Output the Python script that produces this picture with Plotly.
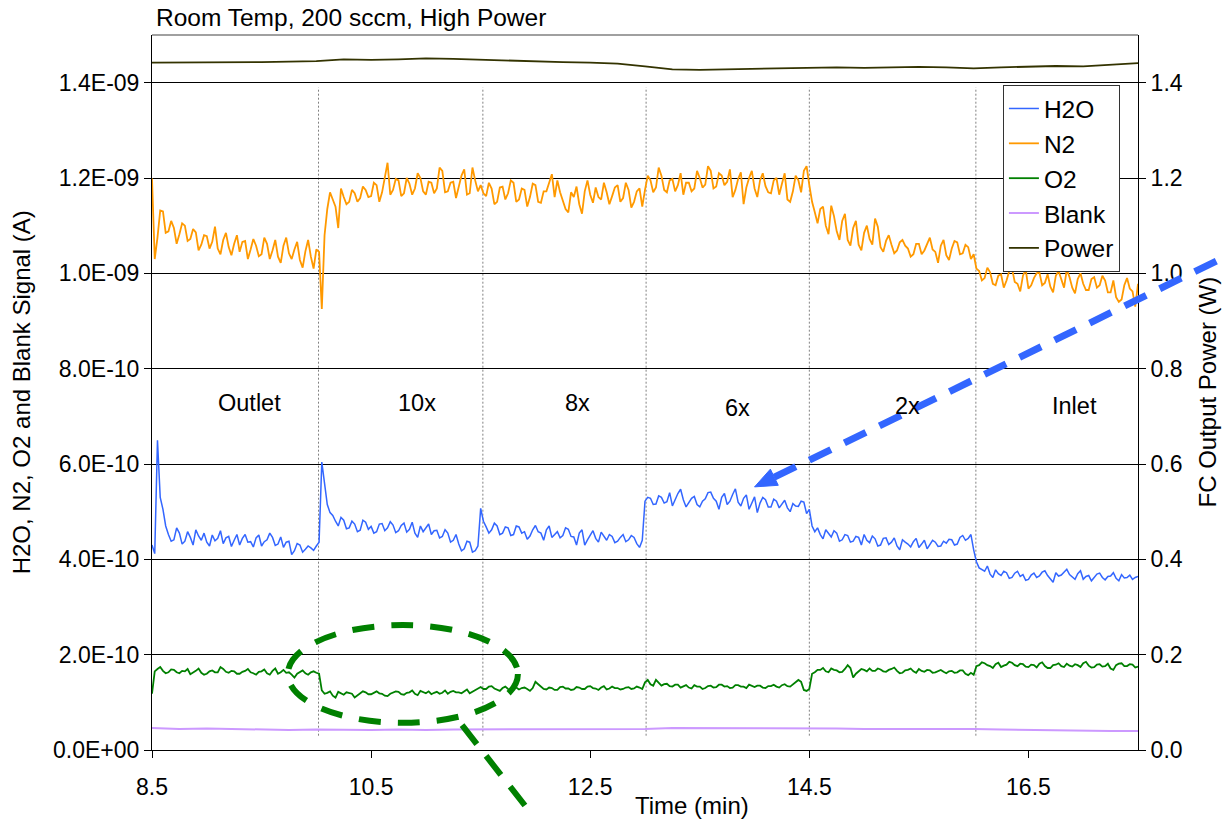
import numpy as np
import plotly.graph_objects as go

# ---------------------------------------------------------------------------
# Data
# ---------------------------------------------------------------------------
# gas signals sampled every 1.5 s, power and blank logged every 15 s (time in min)
t_gas = np.round(8.5 + 0.025 * np.arange(361), 3)
t_slow = np.round(8.5 + 0.25 * np.arange(37), 2)

# mass-spec currents in pA; one block per sampling location
h2o_pA = [
    # Outlet
    430, 412, 650, 530, 505, 470, 452, 438, 441, 466,
    455, 432, 438, 458, 446, 430, 462, 449, 440, 455,
    436, 428, 451, 439, 444, 460, 433, 445, 448, 427,
    440, 452, 430, 444, 452, 436, 437, 426, 445, 451,
    428, 437, 441, 455, 446, 429, 432, 447, 425, 436,
    438, 410, 418, 433, 430, 415, 421, 428, 424, 419,
    # 10x
    428, 436, 604, 560, 515, 498, 492, 480, 470, 488,
    482, 464, 466, 480, 474, 458, 461, 482, 478, 463,
    469, 455, 458, 474, 475, 460, 466, 479, 472, 456,
    460, 471, 476, 457, 463, 478, 455, 446, 470, 458,
    466, 474, 452, 460, 461, 445, 448, 462, 455, 436,
    440, 452, 432, 418, 422, 438, 436, 415, 418, 428,
    # 8x
    507, 480, 468, 455, 462, 476, 470, 452, 455, 468,
    466, 450, 452, 470, 468, 455, 458, 442, 449, 462,
    471, 458, 455, 440, 462, 470, 446, 452, 458, 445,
    450, 466, 463, 448, 447, 430, 455, 462, 430, 441,
    452, 460, 444, 436, 457, 448, 440, 452, 448, 435,
    438, 446, 452, 437, 441, 450, 446, 433, 425, 440,
    # 6x
    522, 530, 528, 515, 516, 533, 530, 518, 521, 540,
    512, 525, 538, 547, 525, 510, 519, 528, 532, 515,
    510, 522, 527, 540, 541, 528, 522, 505, 530, 538,
    515, 522, 536, 548, 520, 512, 528, 535, 505, 520,
    531, 498, 518, 530, 525, 510, 510, 526, 522, 508,
    515, 524, 508, 500, 517, 512, 511, 522, 520, 496,
    # 2x
    505, 470, 458, 466, 452, 443, 462, 455, 447, 460,
    455, 438, 441, 452, 450, 436, 438, 448, 446, 430,
    452, 440, 435, 449, 443, 428, 430, 444, 445, 431,
    436, 445, 428, 420, 441, 436, 432, 426, 437, 444,
    425, 432, 440, 422, 431, 440, 436, 427, 428, 438,
    434, 442, 441, 430, 432, 446, 450, 440, 444, 452,
    # Inlet
    420, 395, 382, 378, 375, 386, 369, 362, 378, 370,
    366, 375, 372, 360, 362, 371, 375, 364, 368, 356,
    358, 367, 371, 362, 365, 373, 376, 366, 360, 352,
    372, 365, 367, 374, 379, 368, 363, 358, 370, 376,
    358, 364, 366, 355, 362, 369, 371, 362, 357, 364,
    365, 372, 360, 355, 368, 361, 362, 367, 358, 362,
    364,
]

n2_pA = [
    # Outlet
    1199, 1030, 1075, 1132, 1130, 1085, 1088, 1110, 1095, 1062,
    1082, 1105, 1100, 1068, 1072, 1093, 1086, 1048, 1060, 1080,
    1078, 1052, 1066, 1098, 1052, 1040, 1070, 1085, 1055, 1038,
    1062, 1080, 1045, 1066, 1068, 1030, 1050, 1072, 1058, 1036,
    1040, 1075, 1062, 1030, 1048, 1070, 1035, 1022, 1058, 1075,
    1042, 1030, 1050, 1066, 1028, 1012, 1046, 1070, 1035, 1010,
    # 10x
    1050, 1045, 925, 1080, 1135, 1170, 1155, 1140, 1095, 1178,
    1160, 1145, 1150, 1175, 1168, 1150, 1158, 1182, 1175, 1160,
    1162, 1190, 1185, 1150, 1170, 1205, 1232, 1165, 1175, 1198,
    1195, 1162, 1168, 1200, 1188, 1165, 1178, 1210, 1200, 1172,
    1165, 1192, 1190, 1168, 1178, 1222, 1215, 1170, 1172, 1190,
    1192, 1158, 1180, 1205, 1218, 1165, 1168, 1222, 1195, 1172,
    # 8x
    1185, 1168, 1162, 1190, 1178, 1145, 1150, 1180, 1182, 1155,
    1168, 1195, 1190, 1150, 1155, 1178, 1175, 1140, 1160, 1188,
    1185, 1150, 1148, 1172, 1172, 1190, 1208, 1160, 1195, 1170,
    1150, 1135, 1128, 1170, 1160, 1182, 1145, 1125, 1172, 1195,
    1165, 1148, 1180, 1160, 1155, 1190, 1170, 1145, 1162, 1180,
    1185, 1150, 1158, 1190, 1175, 1138, 1150, 1172, 1178, 1140,
    # 6x
    1175, 1205, 1195, 1170, 1180, 1222, 1205, 1175, 1170, 1195,
    1198, 1172, 1185, 1210, 1165, 1190, 1190, 1172, 1178, 1215,
    1200, 1180, 1186, 1225, 1215, 1178, 1182, 1210, 1205, 1185,
    1192, 1218, 1160, 1175, 1198, 1212, 1145, 1180, 1200, 1215,
    1178, 1160, 1195, 1210, 1183, 1170, 1168, 1195, 1200, 1165,
    1188, 1210, 1155, 1150, 1172, 1205, 1195, 1170, 1215, 1225,
    # 2x
    1185, 1150, 1128, 1105, 1135, 1140, 1100, 1082, 1142, 1120,
    1088, 1070, 1110, 1125, 1070, 1058, 1095, 1110, 1060, 1048,
    1085, 1100, 1072, 1060, 1115, 1098, 1055, 1045, 1068, 1080,
    1060, 1042, 1048, 1065, 1070, 1058, 1052, 1035, 1040, 1062,
    1062, 1040, 1048, 1060, 1075, 1050, 1045, 1022, 1058, 1070,
    1038, 1028, 1052, 1068, 1065, 1040, 1042, 1060, 1055, 1030,
    # Inlet
    1040, 1010, 1005, 985, 990, 1012, 1002, 978, 975, 995,
    998, 970, 985, 1005, 1010, 982, 978, 962, 995, 1008,
    968, 975, 990, 1000, 1002, 975, 980, 998, 972, 960,
    995, 1005, 985, 970, 1008, 992, 970, 958, 988, 1000,
    978, 965, 965, 988, 992, 970, 975, 995, 985, 960,
    960, 985, 950, 940, 945, 975, 990, 968, 962, 930,
    978,
]

o2_pA = [
    # Outlet
    118, 165, 170, 174, 166, 161, 163, 169, 168, 163,
    161, 166, 165, 170, 159, 162, 166, 171, 162, 158,
    160, 165, 167, 163, 163, 174, 170, 164, 162, 166,
    165, 160, 160, 164, 166, 170, 163, 161, 158, 164,
    165, 169, 161, 158, 166, 171, 160, 163, 168, 162,
    163, 158, 152, 160, 164, 167, 161, 158, 163, 165,
    # 10x
    162, 160, 125, 118, 120, 123, 114, 110, 122, 119,
    116, 121, 120, 118, 110, 115, 119, 123, 121, 117,
    117, 120, 123, 119, 118, 114, 113, 118, 120, 123,
    122, 117, 116, 120, 121, 125, 118, 115, 124, 121,
    119, 123, 117, 120, 122, 118, 120, 125, 118, 122,
    124, 121, 121, 119, 123, 127, 119, 122, 125, 128,
    # 8x
    132, 128, 128, 133, 134, 129, 126, 124, 130, 133,
    128, 125, 135, 131, 127, 130, 131, 128, 124, 130,
    143, 138, 132, 128, 127, 131, 130, 126, 126, 132,
    133, 129, 129, 126, 127, 132, 131, 128, 128, 133,
    134, 130, 129, 126, 131, 134, 127, 129, 133, 130,
    130, 127, 128, 131, 132, 128, 129, 133, 131, 128,
    # 6x
    142, 147, 138, 135, 147, 140, 135, 138, 139, 134,
    133, 137, 137, 131, 134, 136, 131, 129, 136, 133,
    133, 128, 130, 134, 135, 131, 132, 137, 137, 133,
    134, 130, 131, 136, 136, 133, 133, 130, 137, 135,
    132, 135, 135, 131, 130, 134, 134, 137, 133, 131,
    136, 138, 134, 133, 138, 141, 147, 143, 126, 124,
    # 2x
    128, 160, 163, 168, 168, 172, 165, 163, 171, 168,
    167, 163, 164, 170, 178, 172, 152, 160, 166, 170,
    168, 165, 171, 166, 166, 171, 169, 165, 164, 168,
    170, 173, 166, 161, 162, 167, 168, 171, 165, 162,
    170, 166, 164, 168, 167, 162, 163, 166, 168, 164,
    161, 165, 166, 162, 163, 167, 167, 160, 157, 162,
    # Inlet
    158, 176, 178, 184, 182, 178, 176, 172, 180, 183,
    174, 177, 179, 185, 183, 178, 176, 181, 180, 175,
    174, 179, 178, 173, 181, 184, 176, 172, 172, 178,
    179, 182, 176, 174, 181, 177, 175, 180, 178, 174,
    182, 185, 177, 173, 174, 179, 180, 175, 176, 181,
    171, 168, 178, 181, 182, 176, 176, 180, 179, 173,
    175,
]

blank_pA = [
    46, 44, 45, 44, 43, 42, 43, 42, 42, 43, 42, 43, 43, 44, 43, 44, 43, 44, 44,
    46, 46, 45, 46, 46, 45, 45, 44, 44, 45, 44, 44, 43, 42, 41, 41, 40, 40,
]

# fuel-cell output power in W
power_W = [
    1.442, 1.442, 1.443, 1.442, 1.443, 1.444, 1.445, 1.449, 1.448, 1.449,
    1.451, 1.450, 1.448, 1.446, 1.444, 1.443, 1.442, 1.440, 1.434, 1.428,
    1.427, 1.428, 1.429, 1.430, 1.431, 1.432, 1.431, 1.432, 1.433, 1.432,
    1.430, 1.432, 1.434, 1.435, 1.434, 1.437, 1.441,
]

for arr in (h2o_pA, n2_pA, o2_pA):
    assert len(arr) == len(t_gas)
for arr in (blank_pA, power_W):
    assert len(arr) == len(t_slow)

# sampling-point switch times (min) and the location names between them
switch_times = [10.02, 11.52, 13.01, 14.50, 16.02]
location_labels = ["Outlet", "10x", "8x", "6x", "2x", "Inlet"]
location_x = [9.39, 10.92, 12.38, 13.84, 15.40, 16.92]
location_y_nA = [0.727, 0.727, 0.727, 0.717, 0.722, 0.722]

# axis ticks
x_tickvals = [8.5, 10.5, 12.5, 14.5, 16.5]
left_tickvals_nA = [0.0, 0.2, 0.4, 0.6, 0.8, 1.0, 1.2, 1.4]
left_ticktext = ["0.0E+00", "2.0E-10", "4.0E-10", "6.0E-10", "8.0E-10",
                 "1.0E-09", "1.2E-09", "1.4E-09"]
right_tickvals = [0.0, 0.2, 0.4, 0.6, 0.8, 1.0, 1.2, 1.4]
right_ticktext = ["0.0", "0.2", "0.4", "0.6", "0.8", "1.0", "1.2", "1.4"]

# ---------------------------------------------------------------------------
# Geometry helpers
# ---------------------------------------------------------------------------
FIG_W, FIG_H = 1224, 819
MARGIN = dict(l=152, r=86, t=35, b=69)
PLOT_W = FIG_W - MARGIN["l"] - MARGIN["r"]
PLOT_H = FIG_H - MARGIN["t"] - MARGIN["b"]
X_RANGE = (8.5, 17.5)
Y_RANGE_NA = (0.0, 1.5)

FONT = "Liberation Sans, Arial, sans-serif"
FS = 23          # tick labels
FS_LABEL = 23.5  # in-plot location labels
FS_TITLE = 24.5  # chart title / legend
FS_AXIS = 24     # axis titles


def to_paper(t, v_nA):
    """time (min) / signal (nA) -> paper coordinates (unclipped)."""
    px = (t - X_RANGE[0]) / (X_RANGE[1] - X_RANGE[0])
    py = (v_nA - Y_RANGE_NA[0]) / (Y_RANGE_NA[1] - Y_RANGE_NA[0])
    return px, py


def to_px(t, v):
    px, py = to_paper(t, v)
    return px * PLOT_W, py * PLOT_H


def px_to_paper(x, y):
    return x / PLOT_W, y / PLOT_H


def pA(values):
    return [v * 1e-12 for v in values]


# ---------------------------------------------------------------------------
# Figure
# ---------------------------------------------------------------------------
fig = go.Figure()

series = [
    ("H2O", t_gas, pA(h2o_pA), "#3366FF", 1.5),
    ("N2", t_gas, pA(n2_pA), "#FF9900", 1.8),
    ("O2", t_gas, pA(o2_pA), "#008000", 1.8),
    ("Blank", t_slow, pA(blank_pA), "#CC99FF", 2.0),
]
for name, t, y, color, w in series:
    fig.add_trace(go.Scatter(x=t, y=y, name=name, mode="lines",
                             line=dict(color=color, width=w), yaxis="y"))

fig.add_trace(go.Scatter(x=t_slow, y=power_W, name="Power", mode="lines",
                         line=dict(color="#333300", width=1.8), yaxis="y2"))

shapes = []
# dotted separators between sampling locations
for ts in switch_times:
    shapes.append(dict(type="line", xref="x", yref="y", x0=ts, x1=ts,
                       y0=0.03e-9, y1=1.39e-9, layer="below",
                       line=dict(color="#808080", width=1, dash="2px,2px")))

# grey top frame of the plot area
shapes.append(dict(type="line", xref="paper", yref="paper", x0=0, x1=1,
                   y0=1, y1=1, line=dict(color="#808080", width=1.5)))

# blue dashed arrow pointing at the 6x H2O plateau
tip = (14.0, 0.552)
tail = (18.6, 1.069)

tip_px = np.array(to_px(*tip))
tail_px = np.array(to_px(*tail))
u = (tail_px - tip_px) / np.linalg.norm(tail_px - tip_px)
n = np.array([-u[1], u[0]])
base = tip_px + 22 * u
c1 = base + 9 * n
c2 = base - 9 * n

bx, by = px_to_paper(*base)
tx, ty = px_to_paper(*tail_px)
shapes.append(dict(type="line", xref="paper", yref="paper",
                   x0=bx, y0=by, x1=tx, y1=ty,
                   line=dict(color="#3366FF", width=7, dash="24px,15px")))
pts = [px_to_paper(*p) for p in (tip_px, c1, c2)]
path = "M {} {} L {} {} L {} {} Z".format(pts[0][0], pts[0][1], pts[1][0],
                                          pts[1][1], pts[2][0], pts[2][1])
shapes.append(dict(type="path", xref="paper", yref="paper", path=path,
                   fillcolor="#3366FF", line=dict(color="#3366FF", width=1)))

# green dashed ellipse around the O2 dip, with a pointer line
ex0, ey0 = to_paper(9.74, 0.057)
ex1, ey1 = to_paper(11.84, 0.262)
shapes.append(dict(type="circle", xref="paper", yref="paper",
                   x0=ex0, y0=ey0, x1=ex1, y1=ey1,
                   line=dict(color="#008000", width=6, dash="22px,17px")))
lx0, ly0 = to_paper(11.33, 0.052)
lx1, ly1 = to_paper(11.95, -0.13)
shapes.append(dict(type="line", xref="paper", yref="paper",
                   x0=lx0, y0=ly0, x1=lx1, y1=ly1,
                   line=dict(color="#008000", width=6, dash="24px,15px")))

annotations = []
for label, lx, ly in zip(location_labels, location_x, location_y_nA):
    annotations.append(dict(x=lx, y=ly * 1e-9, xref="x", yref="y", text=label,
                            showarrow=False,
                            font=dict(size=FS_LABEL, color="black")))

annotations += [
    dict(text="Room Temp, 200 sccm, High Power", xref="paper", yref="paper",
         x=0.002, y=1.025, xanchor="left", yanchor="middle", showarrow=False,
         font=dict(size=FS_TITLE, color="black")),
    dict(text="H2O, N2, O2 and Blank Signal (A)", xref="paper", yref="paper",
         x=-0.132, y=0.5, textangle=-90, xanchor="center", yanchor="middle",
         showarrow=False, font=dict(size=FS_AXIS, color="black")),
    dict(text="FC Output Power (W)", xref="paper", yref="paper",
         x=1.070, y=0.5, textangle=-90, xanchor="center", yanchor="middle",
         showarrow=False, font=dict(size=FS_AXIS, color="black")),
    dict(text="Time (min)", xref="paper", yref="paper",
         x=0.5476, y=-0.077, xanchor="center", yanchor="middle",
         showarrow=False, font=dict(size=FS_AXIS, color="black")),
]

fig.update_layout(
    width=FIG_W, height=FIG_H,
    margin=MARGIN,
    paper_bgcolor="white", plot_bgcolor="white",
    font=dict(family=FONT, size=FS, color="black"),
    showlegend=True,
    legend=dict(x=0.863, y=0.93, xanchor="left", yanchor="top",
                bgcolor="white", bordercolor="#333333", borderwidth=1,
                font=dict(size=FS_TITLE), itemwidth=30, tracegroupgap=0),
    xaxis=dict(range=list(X_RANGE), tickvals=x_tickvals,
               ticktext=[f"{v:.1f}" for v in x_tickvals],
               showgrid=False, zeroline=False, showline=True,
               linecolor="black", linewidth=1, ticks="outside", ticklen=7,
               tickcolor="black", ticklabelstandoff=9, automargin=False),
    yaxis=dict(range=[Y_RANGE_NA[0] * 1e-9, Y_RANGE_NA[1] * 1e-9],
               tickvals=[v * 1e-9 for v in left_tickvals_nA],
               ticktext=left_ticktext, showgrid=True, gridcolor="black",
               gridwidth=1, zeroline=False, showline=True, linecolor="black",
               linewidth=1, ticks="outside", ticklen=7, tickcolor="black",
               automargin=False),
    yaxis2=dict(range=[0, 1.5], tickvals=right_tickvals,
                ticktext=right_ticktext, overlaying="y", side="right",
                showgrid=False, zeroline=False, showline=True,
                linecolor="black", linewidth=1, ticks="outside", ticklen=7,
                tickcolor="black", automargin=False),
    shapes=shapes,
    annotations=annotations,
)

fig.write_html("out.html")
